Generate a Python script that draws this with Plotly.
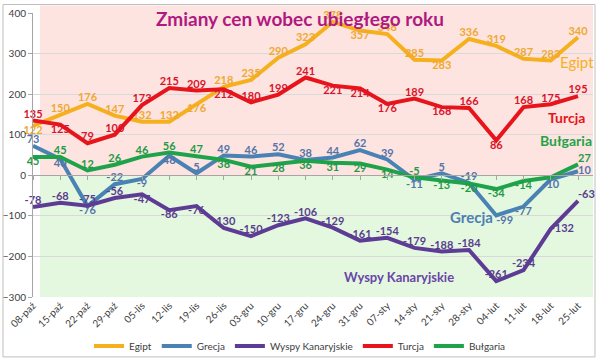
import plotly.graph_objects as go

categories = ["08-paź", "15-paź", "22-paź", "29-paź", "05-lis", "12-lis", "19-lis", "26-lis",
              "03-gru", "10-gru", "17-gru", "24-gru", "31-gru", "07-sty", "14-sty", "21-sty",
              "28-sty", "04-lut", "11-lut", "18-lut", "25-lut"]

egipt = [122, 150, 176, 147, 132, 132, 176, 218, 235, 290, 323, 378, 357, 348, 285, 283, 336, 319, 287, 283, 340]
grecja = [73, 40, -76, -22, -9, 48, 5, 49, 46, 52, 38, 44, 62, 39, -11, 5, -19, -99, -77, -10, 10]
wyspy = [-78, -68, -75, -56, -47, -86, -76, -130, -150, -123, -106, -129, -161, -154, -179, -188, -184, -261, -234, -132, -63]
turcja = [135, 125, 79, 100, 173, 215, 209, 212, 180, 199, 241, 221, 214, 176, 189, 168, 166, 86, 168, 175, 195]
bulgaria = [45, 45, 12, 26, 46, 56, 47, 38, 21, 28, 36, 31, 29, 14, -5, -13, -20, -34, -14, -5, 27]

y_ticks = [400, 300, 200, 100, 0, -100, -200, -300]

T, B, R = "top center", "bottom center", "middle right"
pos_egipt = [B, T, T, T, T, T, B, T, T, T, T, T, B, T, T, B, T, T, T, T, T]
pos_grecja = [T, B, B, T, B, B, T, T, T, T, T, T, T, T, B, T, T, "bottom right", B, B, R]
pos_wyspy = [T, T, T, T, B, B, B, T, T, T, T, T, T, T, T, T, T, T, T, R, "top right"]
pos_turcja = [T, B, T, T, T, T, T, B, T, T, T, B, B, B, T, B, T, B, T, T, T]
pos_bulgaria = [B, T, T, T, T, T, T, B, B, B, B, B, B, B, T, B, B, B, B, B, "top right"]
hide_bulgaria = [19]

series = [
    ("Egipt", egipt, "#F5B01E", "#F0A830", pos_egipt, []),
    ("Grecja", grecja, "#4A82B4", "#5574A8", pos_grecja, []),
    ("Wyspy Kanaryjskie", wyspy, "#5E3C96", "#5A3E8E", pos_wyspy, []),
    ("Turcja", turcja, "#E8141B", "#D9142C", pos_turcja, []),
    ("Bułgaria", bulgaria, "#1FA34A", "#1E9A46", pos_bulgaria, hide_bulgaria),
]

FONT = "Lato"
fig = go.Figure()

for name, vals, col, tcol, pos, hide in series:
    txt = ["" if i in hide else str(v) for i, v in enumerate(vals)]
    fig.add_trace(go.Scatter(
        x=categories, y=vals, name=name, mode="lines+text",
        line=dict(color=col, width=4),
        text=txt, textposition=pos,
        textfont=dict(family=FONT, size=11, color=tcol, weight="bold"),
        cliponaxis=False,
    ))

# dummy trace for zero-line axis with ticks
fig.add_trace(go.Scatter(x=categories, y=[0] * len(categories), xaxis="x2", mode="lines",
                         line=dict(width=0), showlegend=False, hoverinfo="skip"))

# plot geometry in pixels
L, Rpx, Tpx, Bpx = 33, 593, 12.5, 297
pw, ph = Rpx - L, Bpx - Tpx

def px(x):
    return (x - L) / pw

def py(y):
    return (Bpx - y) / ph

shapes = [
    dict(type="rect", xref="paper", yref="paper", x0=px(40), x1=px(593), y0=300 / 700, y1=py(5),
         fillcolor="#FDE4E0", line=dict(width=0), layer="below"),
    dict(type="rect", xref="paper", yref="paper", x0=px(40), x1=px(593), y0=0, y1=300 / 700,
         fillcolor="#E4F8E0", line=dict(width=0), layer="below"),
    dict(type="rect", xref="paper", yref="paper", x0=px(3), x1=px(595), y0=py(357), y1=py(4),
         fillcolor="rgba(0,0,0,0)", line=dict(color="#BFBFBF", width=1), layer="below"),
]

def ann(text, x, y, size, color):
    return dict(text=text, xref="paper", yref="paper", x=px(x), y=py(y), xanchor="center",
                yanchor="middle", showarrow=False, font=dict(family=FONT, size=size, color=color))

annotations = [
    ann("<b>Zmiany cen wobec ubiegłego roku</b>", 300, 18, 19, "#B0197F"),
    ann("Egipt", 577, 62, 15, "#F5B01E"),
    ann("<b>Turcja</b>", 566, 117, 14, "#E8141B"),
    ann("<b>Bułgaria</b>", 566, 140, 14, "#1FA34A"),
    ann("<b>Grecja</b>", 471, 217, 15, "#4F7FB0"),
    ann("<b>Wyspy Kanaryjskie</b>", 399, 277, 13, "#6A45A8"),
]

fig.update_layout(
    width=600, height=362,
    margin=dict(l=L, r=600 - Rpx, t=Tpx, b=362 - Bpx, autoexpand=False),
    paper_bgcolor="white", plot_bgcolor="rgba(0,0,0,0)",
    font=dict(family=FONT, size=10, color="#404040"),
    showlegend=True,
    legend=dict(orientation="h", x=px(300), xanchor="center", y=py(346), yanchor="middle",
                font=dict(family=FONT, size=10, color="#404040"), itemwidth=30,
                bgcolor="rgba(0,0,0,0)"),
    xaxis=dict(type="category", categoryorder="array", categoryarray=categories,
               range=[0, 20.55], showgrid=False, showline=False, zeroline=False, automargin=False,
               tickangle=-45, tickfont=dict(size=10, color="#404040"), ticks=""),
    xaxis2=dict(type="category", categoryorder="array", categoryarray=categories,
                overlaying="x", anchor="free", position=300 / 700, range=[0, 20.55],
                showline=True, linecolor="#A6A6A6", linewidth=1, ticks="outside", ticklen=4,
                tickcolor="#A6A6A6", showticklabels=False, showgrid=False, zeroline=False),
    yaxis=dict(range=[-300, 400], tickvals=y_ticks, showgrid=True, gridcolor="#D9D9D9",
               showline=True, linecolor="#A6A6A6", ticks="outside", ticklen=4, tickcolor="#A6A6A6",
               zeroline=False, automargin=False, tickfont=dict(size=10, color="#404040")),
    shapes=shapes,
    annotations=annotations,
)

fig.write_html("out.html", config={"displayModeBar": False},
               post_script="document.body.style.margin='0';document.body.style.overflow='hidden';")
